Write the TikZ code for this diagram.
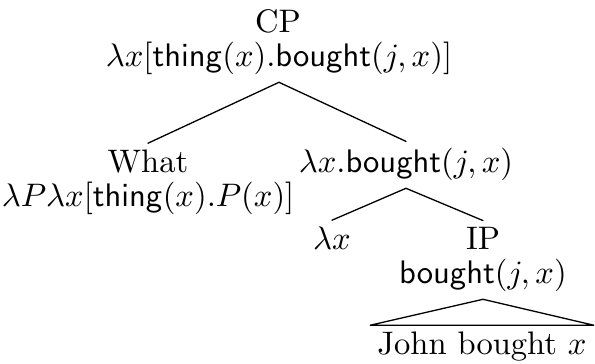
\documentclass[tikz,border=0pt]{standalone}
\usepackage{amsmath}
\usepackage{amssymb}
\usepackage{tikz}
\newcommand{\thg}{\mathsf{thing}}
\newcommand{\bgt}{\mathsf{bought}}

\begin{document}
\begin{tikzpicture}[line cap=round,line join=round,x=0.307pt,y=-0.307pt,
  lbl/.style={anchor=base,inner sep=2pt}]
\useasboundingbox (0,0) rectangle (595,364);
% root
\node[lbl] (cp) at (278,33) {CP};
\node[lbl] (cpsem) at (279,67) {$\lambda x[\thg(x).\bgt(j,x)]$};
% left daughter
\node[lbl] (what) at (148,173) {What};
\node[lbl] (whatsem) at (148,207) {$\lambda P\lambda x[\thg(x).P(x)]$};
% right daughter
\node[lbl] (cbar) at (406,173) {$\lambda x.\bgt(j,x)$};
\node[lbl] (lam) at (332,250) {$\lambda x$};
\node[lbl] (ip) at (483,250) {IP};
\node[lbl] (ipsem) at (483,284) {$\bgt(j,x)$};
\node[lbl] (john) at (482,355) {John bought $x$};
\draw (cpsem.south) -- (what.north);
\draw (cpsem.south) -- (cbar.north);
\draw (cbar.south) -- (lam.north);
\draw (cbar.south) -- (ip.north);
\draw (ipsem.south) -- (john.north west) -- (john.north east) -- cycle;
\end{tikzpicture}
\end{document}
